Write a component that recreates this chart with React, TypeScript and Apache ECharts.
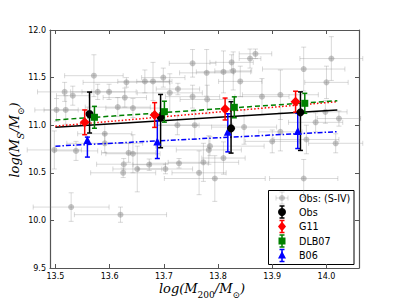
import React, { useEffect, useRef } from "react";
import * as echarts from "echarts";

const xTicks = [13.5, 13.6, 13.7, 13.8, 13.9, 14.0];

const greyX = [13.571, 13.517, 13.532, 13.578, 13.599, 13.631, 13.665, 13.68, 13.519, 13.615, 13.643, 13.591, 13.628, 13.699, 13.711, 13.726, 13.753, 13.753, 13.725, 13.591, 13.502, 13.757, 13.779, 13.81, 13.828, 13.825, 13.859, 13.869, 13.841, 13.958, 14.009, 14.0, 13.915, 13.881, 13.78, 13.998, 13.98, 13.848, 13.9, 14.017, 13.785, 13.963, 14.023, 13.915, 13.958, 13.783, 13.773, 13.81, 13.728, 13.703, 13.765, 13.794, 13.498, 13.538, 13.635, 13.643, 13.626, 13.651, 13.673, 13.625, 13.529, 13.62];
const greyY = [11.52, 11.35, 11.31, 11.35, 11.35, 11.45, 11.46, 11.46, 11.16, 11.19, 11.18, 10.91, 11.29, 11.5, 11.34, 11.38, 11.65, 11.3, 11.0, 10.81, 11.16, 11.0, 11.55, 11.56, 11.57, 11.66, 11.7, 11.75, 11.46, 11.59, 11.7, 11.45, 11.32, 11.3, 11.27, 11.14, 11.03, 10.98, 10.83, 10.81, 10.78, 10.85, 11.07, 10.93, 10.44, 10.74, 10.61, 10.655, 10.6, 10.54, 10.5, 10.44, 10.74, 10.73, 10.71, 10.7, 10.59, 10.54, 10.585, 10.5, 10.14, 10.06];
const greyXErr = [0.054, 0.05, 0.03, 0.05, 0.05, 0.08, 0.05, 0.03, 0.04, 0.06, 0.05, 0.05, 0.04, 0.04, 0.06, 0.04, 0.043, 0.05, 0.04, 0.07, 0.04, 0.07, 0.05, 0.05, 0.034, 0.04, 0.02, 0.03, 0.04, 0.076, 0.058, 0.04, 0.07, 0.05, 0.05, 0.04, 0.05, 0.06, 0.05, 0.05, 0.1, 0.06, 0.04, 0.04, 0.063, 0.06, 0.065, 0.04, 0.054, 0.05, 0.05, 0.093, 0.05, 0.04, 0.05, 0.05, 0.05, 0.045, 0.03, 0.06, 0.07, 0.085];
const greyYErr = [0.22, 0.1, 0.1, 0.08, 0.08, 0.05, 0.12, 0.2, 0.15, 0.1, 0.1, 0.1, 0.1, 0.1, 0.2, 0.06, 0.145, 0.12, 0.1, 0.1, 0.12, 0.15, 0.245, 0.22, 0.2, 0.08, 0.1, 0.05, 0.16, 0.23, 0.23, 0.17, 0.26, 0.19, 0.15, 0.12, 0.1, 0.18, 0.12, 0.1, 0.1, 0.15, 0.08, 0.2, 0.2, 0.15, 0.2, 0.17, 0.05, 0.05, 0.23, 0.24, 0.2, 0.1, 0.1, 0.2, 0.06, 0.24, 0.06, 0.05, 0.15, 0.08];

const obsX = [13.563, 13.694, 13.824, 13.952];
const obsY = [11.118, 11.083, 10.967, 11.135];
const obsErrLo = [0.2, 0.32, 0.26, 0.4];
const obsErrHi = [0.23, 0.24, 0.28, 0.215];

const g11X = [13.554, 13.683, 13.813, 13.943];
const g11Y = [11.03, 11.107, 11.17, 11.247];
const g11Err = [0.13, 0.13, 0.115, 0.11];

const dlbX = [13.572, 13.701, 13.83, 13.96];
const dlbY = [11.083, 11.142, 11.188, 11.23];
const dlbErr = [0.115, 0.11, 0.11, 0.105];

const b06X = [13.559, 13.688, 13.818, 13.947];
const b06Y = [10.845, 10.83, 10.93, 10.94];
const b06ErrLo = [0.18, 0.18, 0.21, 0.185];
const b06ErrHi = [0.03, 0.22, 0.19, 0.185];

const fitX = [13.5, 14.02];
const obsFit = [10.978, 11.16];
const g11Fit = [10.99, 11.247];
const dlbFit = [11.055, 11.257];
const b06Fit = [10.78, 10.932];

const GREY_LINE = "rgba(128,128,128,0.3)";
const GREY_MARK = "rgba(128,128,128,0.45)";

function errRender(color: string, width: number, cap: number, markerColor?: string) {
  return (params: any, api: any) => {
    const x = api.value(0), y = api.value(1);
    const xl = api.value(2), xh = api.value(3), yl = api.value(4), yh = api.value(5);
    const style = { stroke: color, lineWidth: width, fill: null };
    const children: any[] = [];
    if (xl > 0 || xh > 0) {
      const a = api.coord([x - xl, y]);
      const b = api.coord([x + xh, y]);
      children.push({ type: "line", shape: { x1: a[0], y1: a[1], x2: b[0], y2: b[1] }, style });
      children.push({ type: "line", shape: { x1: a[0], y1: a[1] - cap, x2: a[0], y2: a[1] + cap }, style });
      children.push({ type: "line", shape: { x1: b[0], y1: b[1] - cap, x2: b[0], y2: b[1] + cap }, style });
    }
    if (yl > 0 || yh > 0) {
      const a = api.coord([x, y - yl]);
      const b = api.coord([x, y + yh]);
      children.push({ type: "line", shape: { x1: a[0], y1: a[1], x2: b[0], y2: b[1] }, style });
      children.push({ type: "line", shape: { x1: a[0] - cap, y1: a[1], x2: a[0] + cap, y2: a[1] }, style });
      children.push({ type: "line", shape: { x1: b[0] - cap, y1: b[1], x2: b[0] + cap, y2: b[1] }, style });
    }
    if (markerColor) {
      const c = api.coord([x, y]);
      children.push({ type: "circle", shape: { cx: c[0], cy: c[1], r: 3 }, style: { fill: markerColor, stroke: null } });
    }
    return { type: "group", children };
  };
}

function legendEntry(y: number, color: string, shape: string, label: string, grey: boolean): any[] {
  const x = 282;
  const lc = grey ? GREY_LINE : color;
  const st = { stroke: lc, lineWidth: grey ? 1 : 1.5 };
  const els: any[] = [
    { type: "line", shape: { x1: x, y1: y - 6, x2: x, y2: y + 6 }, style: st },
    { type: "line", shape: { x1: x - 2.5, y1: y - 6, x2: x + 2.5, y2: y - 6 }, style: st },
    { type: "line", shape: { x1: x - 2.5, y1: y + 6, x2: x + 2.5, y2: y + 6 }, style: st },
  ];
  if (grey) {
    els.push({ type: "line", shape: { x1: x - 6, y1: y, x2: x + 6, y2: y }, style: st });
    els.push({ type: "line", shape: { x1: x - 6, y1: y - 2.5, x2: x - 6, y2: y + 2.5 }, style: st });
    els.push({ type: "line", shape: { x1: x + 6, y1: y - 2.5, x2: x + 6, y2: y + 2.5 }, style: st });
    els.push({ type: "circle", shape: { cx: x, cy: y, r: 3 }, style: { fill: GREY_MARK } });
  } else if (shape === "circle") {
    els.push({ type: "circle", shape: { cx: x, cy: y, r: 4 }, style: { fill: color } });
  } else if (shape === "diamond") {
    els.push({ type: "polygon", shape: { points: [[x, y - 5], [x + 4, y], [x, y + 5], [x - 4, y]] }, style: { fill: color } });
  } else if (shape === "rect") {
    els.push({ type: "rect", shape: { x: x - 3.5, y: y - 3.5, width: 7, height: 7 }, style: { fill: color } });
  } else {
    els.push({ type: "polygon", shape: { points: [[x, y - 4.5], [x + 4, y + 3], [x - 4, y + 3]] }, style: { fill: color } });
  }
  els.push({
    type: "text",
    x: 299,
    y,
    style: { text: label, fill: "#000", font: "9.6px 'DejaVu Sans'", textAlign: "left", textVerticalAlign: "middle" },
  });
  return els;
}

const titleRich = {
  a: { fontFamily: "'DejaVu Serif'", fontStyle: "italic", fontSize: 13, lineHeight: 16, verticalAlign: "top", fill: "#000" },
  s: { fontFamily: "'DejaVu Serif'", fontStyle: "italic", fontSize: 9, lineHeight: 9, padding: [8, 0, 0, 0], verticalAlign: "top", fill: "#000" },
  u: { fontFamily: "'DejaVu Serif'", fontStyle: "normal", fontSize: 9, lineHeight: 9, padding: [8, 0, 0, 0], verticalAlign: "top", fill: "#000" },
};

export default function App() {
  const ref = useRef<HTMLDivElement>(null);
  useEffect(() => {
    if (!ref.current) return;
    const chart = echarts.init(ref.current, null, { renderer: "svg" });
    const greyData = greyX.map((x, i) => [x, greyY[i], greyXErr[i], greyXErr[i], greyYErr[i], greyYErr[i]]);
    const mk = (xs: number[], ys: number[], lo: number[], hi: number[]) =>
      xs.map((x, i) => [x, ys[i], 0, 0, lo[i], hi[i]]);
    const axisLine = { show: true, lineStyle: { color: "#555", width: 1.2 } };
    const tickStyle = { show: true, inside: true, length: 4, lineStyle: { color: "#555", width: 1 } };
    const labelFont = { fontFamily: "'DejaVu Sans'", fontSize: 8, color: "#000" };
    const lineSeries = (ys: number[], color: string, type: any, name: string) => ({
      type: "line",
      name,
      data: fitX.map((x, i) => [x, ys[i]]),
      showSymbol: false,
      symbol: "none",
      lineStyle: { color, width: 1.5, type },
      z: 3,
    });
    const errSeries = (data: any[], color: string) => ({
      type: "custom",
      renderItem: errRender(color, 1.5, 2.5),
      data,
      encode: { x: 0, y: 1 },
      z: 4,
    });
    const scat = (xs: number[], ys: number[], color: string, symbol: string, size: number) => ({
      type: "scatter",
      data: xs.map((x, i) => [x, ys[i]]),
      symbol,
      symbolSize: size,
      itemStyle: { color, opacity: 1 },
      z: 5,
    });
    chart.setOption({
      animation: false,
      grid: { left: 50, right: 40, top: 30, bottom: 31, show: false },
      xAxis: [
        {
          type: "value", min: 13.49, max: 14.06, position: "bottom",
          axisLine, axisTick: { ...tickStyle, customValues: xTicks },
          axisLabel: { ...labelFont, margin: 4, customValues: xTicks, formatter: (v: number) => v.toFixed(1) },
          splitLine: { show: false },
        },
        {
          type: "value", min: 13.49, max: 14.06, position: "top",
          axisLine, axisTick: { ...tickStyle, customValues: xTicks },
          axisLabel: { show: false, customValues: xTicks },
          splitLine: { show: false },
        },
      ],
      yAxis: [
        {
          type: "value", min: 9.5, max: 12.0, interval: 0.5, position: "left",
          axisLine, axisTick: tickStyle,
          axisLabel: { ...labelFont, margin: 4, formatter: (v: number) => v.toFixed(1) },
          splitLine: { show: false },
        },
        {
          type: "value", min: 9.5, max: 12.0, interval: 0.5, position: "right",
          axisLine, axisTick: tickStyle,
          axisLabel: { show: false },
          splitLine: { show: false },
        },
      ],
      series: [
        {
          type: "custom",
          name: "Obs: (S-IV)",
          renderItem: errRender(GREY_LINE, 1, 2.5, GREY_MARK),
          data: greyData,
          encode: { x: 0, y: 1 },
          z: 2,
        },
        lineSeries(obsFit, "#000", "solid", "fitObs"),
        lineSeries(g11Fit, "#ff0000", [1.5, 2], "fitG11"),
        lineSeries(dlbFit, "#008000", [5, 3], "fitDLB"),
        lineSeries(b06Fit, "#0000ff", [5, 2, 1.5, 2], "fitB06"),
        errSeries(mk(b06X, b06Y, b06ErrLo, b06ErrHi), "#0000ff"),
        scat(b06X, b06Y, "#0000ff", "triangle", 8),
        errSeries(mk(obsX, obsY, obsErrLo, obsErrHi), "#000"),
        scat(obsX, obsY, "#000", "circle", 8),
        errSeries(mk(g11X, g11Y, g11Err, g11Err), "#ff0000"),
        scat(g11X, g11Y, "#ff0000", "diamond", 10),
        errSeries(mk(dlbX, dlbY, dlbErr, dlbErr), "#008000"),
        scat(dlbX, dlbY, "#008000", "rect", 7),
      ],
      graphic: [
        {
          type: "group",
          z: 100,
          children: [
            { type: "rect", shape: { x: 268.5, y: 190.5, width: 85.5, height: 74 }, style: { fill: "#fff", stroke: "#000", lineWidth: 1 } },
            ...legendEntry(198, "#808080", "circle", "Obs: (S-IV)", true),
            ...legendEntry(212, "#000", "circle", "Obs", false),
            ...legendEntry(226.5, "#ff0000", "diamond", "G11", false),
            ...legendEntry(241, "#008000", "rect", "DLB07", false),
            ...legendEntry(255.5, "#0000ff", "triangle", "B06", false),
          ],
        },
        {
          type: "text",
          x: 202,
          y: 290,
          style: {
            text: "{a|log(M}{u|200}{a|/M}{u|⊙}{a|)}",
            rich: titleRich,
            textAlign: "center",
            textVerticalAlign: "middle",
          },
        },
        {
          type: "text",
          x: 16,
          y: 140,
          rotation: Math.PI / 2,
          style: {
            text: "{a|log(M}{s|S}{a|/M}{u|⊙}{a|)}",
            rich: titleRich,
            textAlign: "center",
            textVerticalAlign: "middle",
          },
        },
      ],
    });
    return () => chart.dispose();
  }, []);
  return <div ref={ref} style={{ width: 399, height: 299, position: "absolute", left: 0, top: 0 }} />;
}
